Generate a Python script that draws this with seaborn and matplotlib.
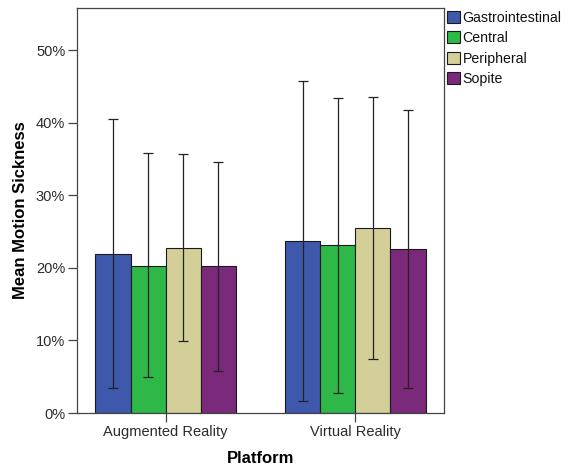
import matplotlib
matplotlib.use("Agg")
import matplotlib.pyplot as plt
import seaborn as sns
import pandas as pd
import numpy as np
from matplotlib.ticker import PercentFormatter

platforms = ["Augmented Reality", "Virtual Reality"]
symptoms = ["Gastrointestinal", "Central", "Peripheral", "Sopite"]

# mean motion sickness (fraction) per platform, in symptom order
ar_means = [0.219, 0.203, 0.227, 0.202]
vr_means = [0.237, 0.231, 0.255, 0.226]

# 95% CI bounds
ar_low = [0.034, 0.049, 0.099, 0.058]
ar_high = [0.405, 0.358, 0.357, 0.346]
vr_low = [0.017, 0.028, 0.075, 0.034]
vr_high = [0.457, 0.434, 0.436, 0.418]

colors = ["#3E58AC", "#2EB848", "#D4CF99", "#7B2A7B"]

sns.set_style("white")
plt.rcParams["font.family"] = ["Liberation Sans", "DejaVu Sans"]

df = pd.DataFrame({
    "Platform": np.repeat(platforms, len(symptoms)),
    "Symptom": symptoms * len(platforms),
    "Mean": ar_means + vr_means,
    "Low": ar_low + vr_low,
    "High": ar_high + vr_high,
})

fig = plt.figure(figsize=(5.68, 4.71), dpi=100)
ax = fig.add_axes([0.1356, 0.1231, 0.6461, 0.8599])

sns.barplot(data=df, x="Platform", y="Mean", hue="Symptom", order=platforms,
            hue_order=symptoms, palette=colors, width=0.742, saturation=1,
            edgecolor="#1a1a1a", linewidth=0.8, errorbar=None, ax=ax, zorder=2)

# confidence intervals drawn at each bar's centre
for j, sym in enumerate(symptoms):
    cont = ax.containers[j]
    sub = df[df["Symptom"] == sym].set_index("Platform").loc[platforms]
    xs = [p.get_x() + p.get_width() / 2 for p in cont.patches]
    means = sub["Mean"].to_numpy()
    yerr = np.vstack([means - sub["Low"].to_numpy(), sub["High"].to_numpy() - means])
    ax.errorbar(xs, means, yerr=yerr, fmt="none", ecolor="#222222",
                elinewidth=0.9, capsize=3.3, capthick=0.9, zorder=3)

ax.set_xlim(-0.468, 1.468)
ax.set_ylim(0, 0.558)
ax.set_yticks([0, 0.1, 0.2, 0.3, 0.4, 0.5])
ax.yaxis.set_major_formatter(PercentFormatter(1.0, decimals=0))

for s in ax.spines.values():
    s.set_visible(True)
    s.set_color("#444444")
    s.set_linewidth(0.9)

ax.tick_params(axis="both", which="major", direction="out", length=6.5,
               width=0.9, color="#444444", labelsize=10.5, labelcolor="#2b2b2b",
               left=True, bottom=True, pad=2)

ax.set_xlabel("Platform", fontsize=12, fontweight="bold", labelpad=9, color="black")
ax.set_ylabel("Mean Motion Sickness", fontsize=12, fontweight="bold", labelpad=6,
              color="black")

leg = ax.legend(loc="upper left", bbox_to_anchor=(1.0, 1.0), frameon=False,
                fontsize=10.2, handlelength=0.9, handleheight=0.95,
                handletextpad=0.2, labelspacing=0.45, borderaxespad=0.05,
                borderpad=0.15)
for t in leg.get_texts():
    t.set_color("#111111")
for h in leg.legend_handles:
    h.set_edgecolor("#1a1a1a")
    h.set_linewidth(0.8)

fig.savefig("out.png", dpi=100)
